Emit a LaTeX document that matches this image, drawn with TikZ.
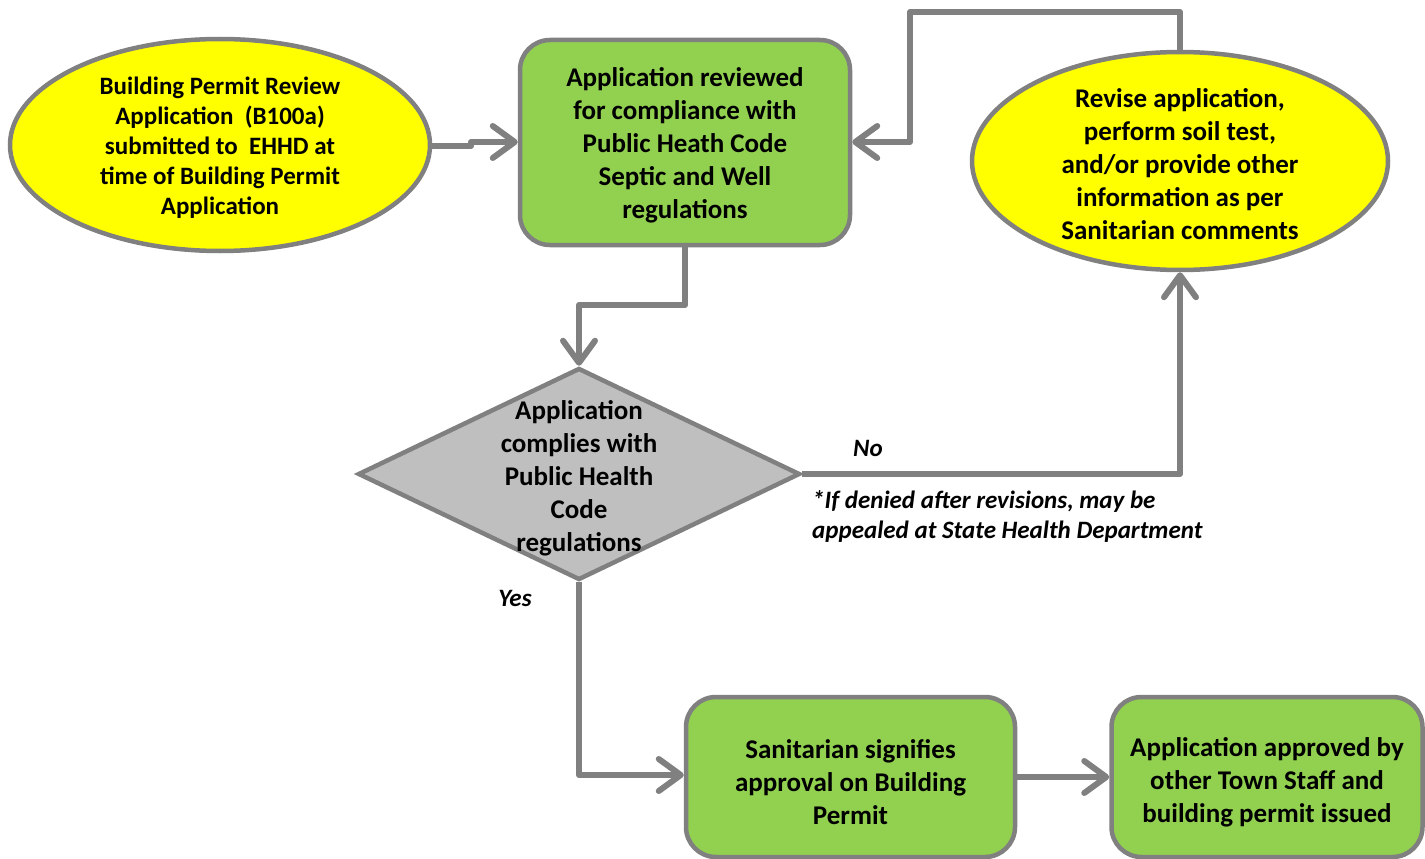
\documentclass[tikz,border=0pt]{standalone}
\usepackage{fontspec}
\setmainfont{Carlito}
\usetikzlibrary{shapes.geometric,arrows.meta}
\definecolor{edgegray}{HTML}{808080}
\definecolor{boxgreen}{HTML}{92D050}
\definecolor{ellyellow}{HTML}{FFFF00}
\definecolor{diagray}{HTML}{BFBFBF}
\tikzset{
  shp/.style={draw=edgegray, line width=4.5pt, inner sep=0pt},
  gbox/.style={shp, rectangle, rounded corners=30pt, fill=boxgreen},
  yell/.style={shp, ellipse, fill=ellyellow},
  dia/.style={shp, diamond, fill=diagray},
  txt/.style={align=center, font=\bfseries\fontsize{27}{33}\selectfont, inner sep=0pt},
  conn/.style={draw=edgegray, line width=6pt, line join=round,
    -{Straight Barb[length=22pt,width=32pt,round]}},
  lbl/.style={font=\bfseries\itshape\fontsize{25}{30}\selectfont, inner sep=0pt}
}
\begin{document}
\begin{tikzpicture}[x=1pt,y=-1pt]
\useasboundingbox (0,0) rectangle (1425,859);
% shapes
\node[yell, minimum width=420pt, minimum height=212pt] (start) at (220,145) {};
\node[txt, font=\bfseries\fontsize{25}{30}\selectfont] (starttxt) at (220,148) {Building Permit Review\\Application\ \ (B100a)\\submitted to\ \ EHHD at\\time of Building Permit\\Application};
\node[gbox, minimum width=330pt, minimum height=205pt, txt] (review) at (685,142.5) {};
\node[txt] (reviewtxt) at (685,145.5) {Application reviewed\\for compliance with\\Public Heath Code\\Septic and Well\\regulations};
\node[yell, minimum width=416pt, minimum height=218pt] (revise) at (1180,161) {};
\node[txt] (revisetxt) at (1180,164) {Revise application,\\perform soil test,\\and/or provide other\\information as per\\Sanitarian comments};
\node[dia, minimum width=442pt, minimum height=212pt] (check) at (579,474) {};
\node[txt] (checktxt) at (579,478) {Application\\complies with\\Public Health\\Code\\regulations};
\node[gbox, minimum width=329pt, minimum height=160pt] (sign) at (850.5,777) {};
\node[txt] (signtxt) at (850.5,782) {Sanitarian signifies\\approval on Building\\Permit};
\node[gbox, minimum width=311pt, minimum height=160pt] (issue) at (1267,777) {};
\node[txt] (issuetxt) at (1267,782) {Application approved by\\other Town Staff and\\building permit issued};
% connectors
\draw[conn] (start.east |- 0,146) -- (471,146) -- (471,142) -- (review.west |- 0,142);
\coordinate (r1) at (1180,12);
\coordinate (r2) at (910,12);
\draw[conn] (revise.north) -- (r1) -- (r2) -- (910,142) -- (review.east |- 0,142);
\draw[conn] (review.south) -- (685,305) -- (check.north |- 0,305) -- (check.north);
\draw[conn] (check.east) -- (1180,474) -- (revise.south);
\draw[conn] (check.south) -- (check.south |- 0,775) -- (sign.west |- 0,775);
\draw[conn] (sign.east) -- (issue.west);
% labels
\node[lbl] (no) at (868,448) {No};
\node[lbl] (yes) at (515,598) {Yes};
\node[lbl, align=left, anchor=west] (note) at (812,517) {*If denied after revisions, may be\\appealed at State Health Department};
\end{tikzpicture}
\end{document}
